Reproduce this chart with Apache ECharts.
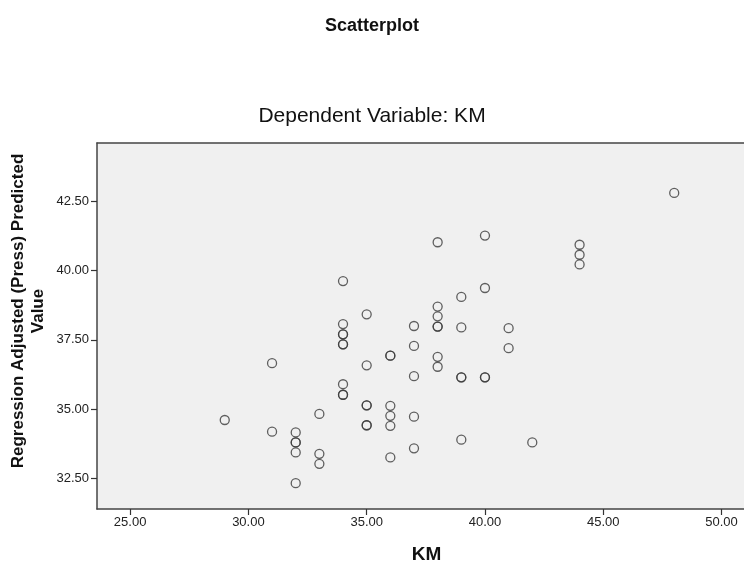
<!DOCTYPE html>
<html>
<head>
<meta charset="utf-8">
<script src="https://cdn.jsdelivr.net/npm/echarts@6/dist/echarts.min.js"></script>
<style>
html,body{margin:0;padding:0;background:#fff;}
#chart{width:744px;height:570px;}
</style>
</head>
<body>
<div id="chart"></div>
<script>
// Observed KM (x) and Regression Adjusted (Press) Predicted Value (y)
var kmValues = [
  29,
  31, 31,
  32, 32, 32, 32, 32,
  33, 33, 33,
  34, 34, 34, 34, 34, 34, 34, 34, 34,
  35, 35, 35, 35, 35, 35,
  36, 36, 36, 36, 36, 36,
  37, 37, 37, 37, 37,
  38, 38, 38, 38, 38, 38, 38,
  39, 39, 39, 39, 39,
  40, 40, 40, 40,
  41, 41,
  42,
  44, 44, 44,
  48
];
var predictedValues = [
  34.61,
  36.66, 34.19,
  34.16, 33.80, 33.80, 33.44, 32.33,
  34.83, 33.39, 33.03,
  39.62, 38.07, 37.70, 37.70, 37.34, 37.34, 35.90, 35.52, 35.52,
  38.42, 36.58, 35.14, 35.14, 34.42, 34.42,
  36.93, 36.93, 35.12, 34.76, 34.40, 33.26,
  38.00, 37.28, 36.19, 34.73, 33.59,
  41.02, 38.70, 38.35, 37.98, 37.98, 36.89, 36.53,
  39.05, 37.95, 36.15, 36.15, 33.90,
  41.26, 39.37, 36.15, 36.15,
  37.92, 37.20,
  33.80,
  40.93, 40.57, 40.22,
  42.80
];
var xTicks = [25, 30, 35, 40, 45, 50];
var yTicks = [32.5, 35, 37.5, 40, 42.5];

var points = kmValues.map(function (k, i) { return [k, predictedValues[i]]; });

var FONT = '"Liberation Sans", Arial, sans-serif';
var frame = { show: true, onZero: false, lineStyle: { color: '#444', width: 1.5 } };
var chart = echarts.init(document.getElementById('chart'));
chart.setOption({
  animation: false,
  backgroundColor: '#ffffff',
  title: [
    { text: 'Scatterplot', left: 'center', top: 12,
      textStyle: { fontFamily: FONT, fontSize: 18, fontWeight: 'bold', color: '#111' } },
    { text: 'Dependent Variable: KM', left: 'center', top: 101,
      textStyle: { fontFamily: FONT, fontSize: 21, fontWeight: 'normal', color: '#111' } }
  ],
  grid: {
    left: 97, right: 0, top: 143, bottom: 61,
    outerBoundsMode: 'none', containLabel: false,
    show: true, backgroundColor: '#f0f0f0', borderWidth: 0
  },
  xAxis: [{
    type: 'value', min: 23.6, max: 50.95, position: 'bottom',
    name: 'KM', nameLocation: 'middle', nameGap: 36,
    nameTextStyle: { fontFamily: FONT, fontSize: 19, fontWeight: 'bold', color: '#111', padding: [0, 0, 0, 12] },
    splitLine: { show: false },
    axisLine: frame,
    axisTick: { show: true, length: 6, customValues: xTicks, lineStyle: { color: '#333', width: 1.2 } },
    axisLabel: { customValues: xTicks, margin: 7, fontFamily: FONT, fontSize: 13, color: '#222',
      formatter: function (v) { return v.toFixed(2); } }
  }, {
    type: 'value', min: 23.6, max: 50.95, position: 'top',
    splitLine: { show: false }, axisLine: frame,
    axisTick: { show: false }, axisLabel: { show: false }
  }],
  yAxis: {
    type: 'value', min: 31.4, max: 44.6,
    name: 'Regression Adjusted (Press) Predicted\nValue', nameLocation: 'middle', nameGap: 49,
    nameMoveOverlap: false,
    nameTextStyle: { fontFamily: FONT, fontSize: 17, fontWeight: 'bold', color: '#111', lineHeight: 20,
      padding: [0, 0, 0, 30] },
    splitLine: { show: false },
    axisLine: frame,
    axisTick: { show: true, length: 6, customValues: yTicks, lineStyle: { color: '#333', width: 1.2 } },
    axisLabel: { customValues: yTicks, margin: 8, fontFamily: FONT, fontSize: 13, color: '#222',
      formatter: function (v) { return v.toFixed(2); } }
  },
  series: [{
    type: 'scatter',
    data: points,
    symbol: 'circle',
    symbolSize: 9,
    itemStyle: { color: 'rgba(0,0,0,0)', borderColor: '#3a3a3a', borderWidth: 1.3 }
  }]
});
</script>
</body>
</html>
